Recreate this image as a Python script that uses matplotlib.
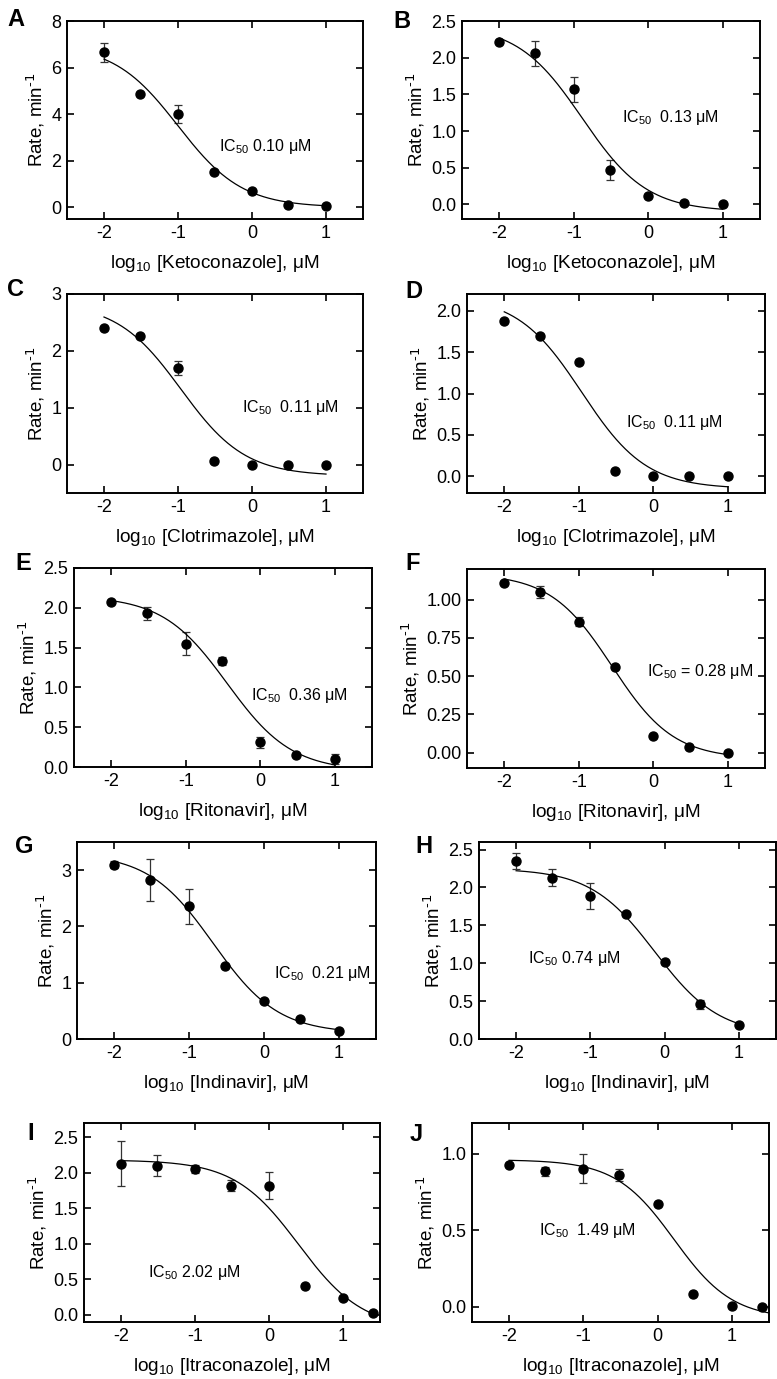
import numpy as np
import matplotlib
matplotlib.use("Agg")
import matplotlib.pyplot as plt

plt.rcParams['font.family'] = ['Liberation Sans', 'DejaVu Sans']
plt.rcParams['mathtext.default'] = 'regular'
plt.rcParams['axes.unicode_minus'] = False

# log10 concentrations (uM)
x7 = [-2, -1.52, -1, -0.52, 0, 0.48, 1]
x8 = [-2, -1.52, -1, -0.52, 0, 0.48, 1, 1.4]

# panel letters, drug names, IC50 text
letters = ['A', 'B', 'C', 'D', 'E', 'F', 'G', 'H', 'I', 'J']
drugs = ['Ketoconazole', 'Ketoconazole', 'Clotrimazole', 'Clotrimazole',
         'Ritonavir', 'Ritonavir', 'Indinavir', 'Indinavir',
         'Itraconazole', 'Itraconazole']
ic50_text = ['IC$_{50}$ 0.10 μM', 'IC$_{50}$  0.13 μM', 'IC$_{50}$  0.11 μM',
             'IC$_{50}$  0.11 μM', 'IC$_{50}$  0.36 μM', 'IC$_{50}$ = 0.28 μM',
             'IC$_{50}$  0.21 μM', 'IC$_{50}$ 0.74 μM', 'IC$_{50}$ 2.02 μM',
             'IC$_{50}$  1.49 μM']

# measured rates (min^-1) and error bars (0 = none drawn)
rate_A = [6.65, 4.85, 4.0, 1.5, 0.7, 0.08, 0.05]
err_A = [0.4, 0, 0.38, 0, 0, 0, 0]
rate_B = [2.22, 2.06, 1.57, 0.47, 0.12, 0.02, 0.0]
err_B = [0, 0.17, 0.17, 0.14, 0, 0, 0]
rate_C = [2.4, 2.27, 1.7, 0.07, 0.0, 0.0, 0.0]
err_C = [0, 0, 0.12, 0, 0, 0, 0]
rate_D = [1.88, 1.69, 1.38, 0.07, 0.0, 0.0, 0.0]
err_D = [0, 0, 0, 0, 0, 0, 0]
rate_E = [2.07, 1.93, 1.55, 1.33, 0.31, 0.15, 0.1]
err_E = [0, 0.08, 0.14, 0.05, 0.07, 0, 0.06]
rate_F = [1.11, 1.05, 0.855, 0.56, 0.11, 0.04, 0.0]
err_F = [0, 0.04, 0.03, 0, 0, 0, 0]
rate_G = [3.1, 2.82, 2.36, 1.29, 0.67, 0.36, 0.14]
err_G = [0.07, 0.37, 0.31, 0, 0, 0, 0]
rate_H = [2.35, 2.13, 1.89, 1.65, 1.01, 0.46, 0.18]
err_H = [0.11, 0.11, 0.17, 0, 0, 0.06, 0]
rate_I = [2.13, 2.1, 2.05, 1.82, 1.82, 0.41, 0.24, 0.03]
err_I = [0.31, 0.15, 0.06, 0.08, 0.19, 0, 0, 0]
rate_J = [0.925, 0.885, 0.9, 0.86, 0.67, 0.08, 0.005, 0.0]
err_J = [0, 0.03, 0.095, 0.04, 0, 0, 0, 0]

rates = [rate_A, rate_B, rate_C, rate_D, rate_E, rate_F, rate_G, rate_H, rate_I, rate_J]
errs = [err_A, err_B, err_C, err_D, err_E, err_F, err_G, err_H, err_I, err_J]
xs = [x7] * 8 + [x8] * 2

# fitted curve parameters: top, bottom, logIC50, hill, x range
fit_top = [7.0, 2.45, 2.85, 2.18, 2.15, 1.17, 3.3, 2.25, 2.18, 0.96]
fit_bottom = [0.0, -0.1, -0.2, -0.15, -0.05, -0.04, 0.1, 0.05, -0.2, -0.08]
fit_logic50 = [-1.0, -0.886, -0.96, -0.96, -0.444, -0.553, -0.678, -0.131, 0.4, 0.22]
fit_hill = [1.0, 1.0, 1.0, 1.0, 1.0, 1.05, 1.0, 1.0, 1.0, 1.1]
fit_xmax = [1, 1, 1, 1, 1, 1, 1, 1, 1.4, 1.5]

ylims = [(-0.5, 8), (-0.2, 2.5), (-0.5, 3), (-0.2, 2.2), (0, 2.5),
         (-0.1, 1.2), (0, 3.5), (0, 2.6), (-0.1, 2.7), (-0.1, 1.2)]
yticks = [[0, 2, 4, 6, 8], [0, 0.5, 1, 1.5, 2, 2.5], [0, 1, 2, 3],
          [0, 0.5, 1, 1.5, 2], [0, 0.5, 1, 1.5, 2, 2.5],
          [0, 0.25, 0.5, 0.75, 1.0], [0, 1, 2, 3], [0, 0.5, 1, 1.5, 2, 2.5],
          [0, 0.5, 1, 1.5, 2, 2.5], [0, 0.5, 1.0]]
yfmt = ['%d', '%.1f', '%d', '%.1f', '%.1f', '%.2f', '%d', '%.1f', '%.1f', '%.1f']
text_pos = [(-0.45, 2.6), (-0.35, 1.18), (-0.13, 1.0), (-0.37, 0.65), (-0.12, 0.9),
            (-0.09, 0.53), (0.14, 1.17), (-1.84, 1.06), (-1.64, 0.6), (-1.6, 0.5)]

# axes boxes in pixels: left, right, top, bottom
boxes = [(67, 363, 21, 219), (462, 760, 21, 219),
         (67, 363, 294, 493), (467, 765, 294, 493),
         (74, 372, 568, 767), (467, 765, 569, 768),
         (77, 376, 842, 1039), (479, 776, 842, 1039),
         (84, 380, 1123, 1322), (472, 769, 1123, 1322)]
letter_pos = [(7, 8), (393, 10), (7, 278), (405, 280), (15, 552), (405, 552),
              (15, 835), (415, 835), (27, 1122), (410, 1123)]

W, H = 777, 1379
fig = plt.figure(figsize=(W / 100, H / 100), dpi=100)

for i in range(10):
    l, r, t, b = boxes[i]
    ax = fig.add_axes([l / W, 1 - b / H, (r - l) / W, (b - t) / H])
    x = np.array(xs[i])
    y = np.array(rates[i])
    e = np.array(errs[i])
    has = e > 0
    if has.any():
        ax.errorbar(x[has], y[has], yerr=e[has], fmt='none', ecolor='#333333',
                    elinewidth=0.9, capsize=3, capthick=0.9, zorder=2)
    ax.plot(x, y, 'o', color='black', markersize=6.5, zorder=3)
    gx = np.linspace(-2, fit_xmax[i], 300)
    gy = fit_bottom[i] + (fit_top[i] - fit_bottom[i]) / (1 + 10 ** ((gx - fit_logic50[i]) * fit_hill[i]))
    ax.plot(gx, gy, color='black', lw=0.9, zorder=2)

    ax.set_xlim(-2.5, 1.5)
    ax.set_ylim(*ylims[i])
    ax.set_xticks([-2, -1, 0, 1])
    ax.set_yticks(yticks[i])
    ax.set_yticklabels([yfmt[i] % v for v in yticks[i]])
    ax.tick_params(direction='in', top=True, right=True, length=5, width=1.2,
                   labelsize=13, pad=4)
    for s in ax.spines.values():
        s.set_linewidth(1.4)
    ax.set_ylabel(r'Rate, min$^{\text{-1}}$', fontsize=13.5, labelpad=3)
    ax.set_xlabel('log$_{10}$ [' + drugs[i] + '], μM', fontsize=13.7, labelpad=8)
    ax.text(text_pos[i][0], text_pos[i][1], ic50_text[i], fontsize=11.5,
            ha='left', va='center')

    lx, ly = letter_pos[i]
    fig.text(lx / W, 1 - ly / H, letters[i], fontsize=17, fontweight='bold',
             ha='left', va='top')

fig.savefig('out.png', dpi=100)
